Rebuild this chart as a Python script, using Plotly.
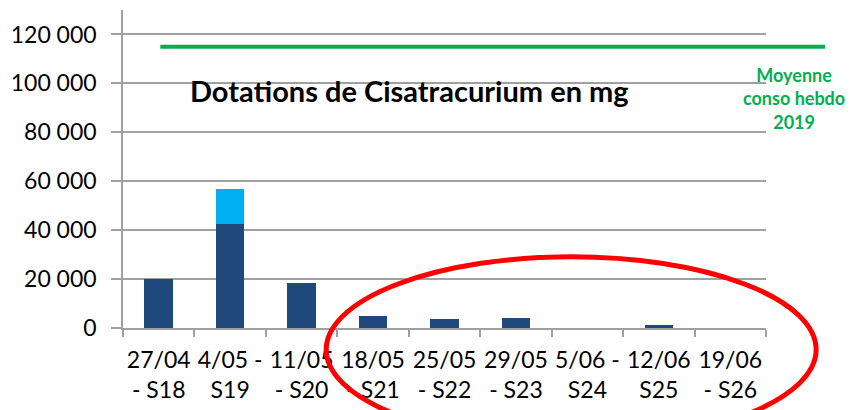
import plotly.graph_objects as go

# weekly allocations (mg)
weeks = [
    "27/04<br>- S18", "4/05 -<br>S19", "11/05<br>- S20", "18/05<br>- S21",
    "25/05<br>- S22", "29/05<br>- S23", "5/06 -<br>S24", "12/06<br>S25",
    "19/06<br>- S26",
]
dotation_main = [20000, 42600, 18200, 5000, 3700, 4100, 0, 1100, 0]
dotation_extra = [0, 14200, 0, 0, 0, 0, 0, 0, 0]
moyenne_2019 = 115000
y_ticks = [0, 20000, 40000, 60000, 80000, 100000, 120000]

DARK_BLUE = "#1F497D"
LIGHT_BLUE = "#00B0F0"
GREEN = "#00B050"
GRID = "#A0A0A0"
FONT = "Lato"

fig = go.Figure()
fig.add_trace(go.Bar(x=weeks, y=dotation_main, marker=dict(color=DARK_BLUE, line_width=0)))
fig.add_trace(go.Bar(x=weeks, y=dotation_extra, marker=dict(color=LIGHT_BLUE, line_width=0)))

# 2019 weekly average, drawn a little past the plot area like in the original
fig.add_shape(
    type="line", xref="paper", yref="y",
    x0=0.058, x1=1.092, y0=moyenne_2019, y1=moyenne_2019,
    line=dict(color=GREEN, width=4),
)
# red ellipse over the last weeks
fig.add_shape(
    type="circle", xref="paper", yref="paper",
    x0=0.316, x1=1.078, y0=-0.36, y1=0.224,
    line=dict(color="#FF0000", width=5),
)

fig.add_annotation(
    text="<b>Dotations de Cisatracurium en mg</b>",
    xref="paper", yref="paper", x=0.445, y=0.748,
    xanchor="center", yanchor="middle",
    showarrow=False, font=dict(family=FONT, size=29, color="black"),
)
fig.add_annotation(
    text="<b>Moyenne<br>conso hebdo<br>2019</b>",
    xref="paper", yref="paper", x=1.043, y=0.723,
    xanchor="center", yanchor="middle",
    showarrow=False, align="center",
    font=dict(family=FONT, size=18, color=GREEN),
)

# the page body has an 8px margin, so the figure is 8px smaller each way
fig.update_layout(
    width=848, height=402,
    margin=dict(l=115, r=90, t=2, b=82),
    barmode="stack", bargap=0.6, showlegend=False,
    plot_bgcolor="white", paper_bgcolor="white",
    separators=", ",
    font=dict(family=FONT, size=23, color="black"),
    xaxis=dict(
        showline=True, linecolor=GRID, linewidth=1.5,
        ticks="outside", tickson="boundaries", ticklen=7, tickcolor=GRID, tickwidth=1.5,
        showgrid=False, tickangle=0, automargin=False,
        tickfont=dict(size=23), ticklabelstandoff=11,
    ),
    yaxis=dict(
        range=[0, 130000], tickvals=y_ticks, tickformat=",.0f",
        showline=True, linecolor=GRID, linewidth=1.5,
        ticks="outside", ticklen=10, tickcolor=GRID, tickwidth=1.5,
        showgrid=True, gridcolor=GRID, gridwidth=1.5, zeroline=False,
        automargin=False, ticklabelstandoff=10,
    ),
)

fig.write_html("out.html")
